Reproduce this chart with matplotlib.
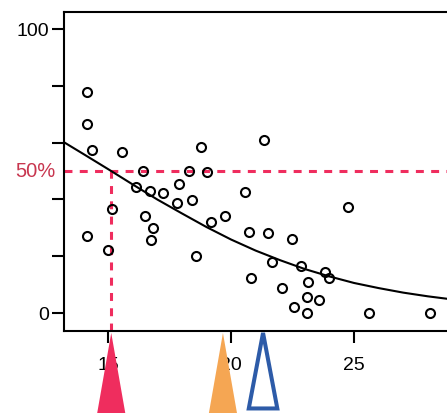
import matplotlib
matplotlib.use("Agg")
import matplotlib.pyplot as plt
from matplotlib import transforms
from matplotlib.patches import Polygon

plt.rcParams['font.family'] = ['Liberation Sans', 'DejaVu Sans']

# ---- data ----
x_vals = [14.13, 14.13, 14.36, 15.58, 16.42, 18.30, 19.04, 18.78, 21.34, 16.13,
          16.71, 17.25, 17.89, 17.82, 18.43, 20.57, 15.18, 16.50, 16.84, 16.74,
          14.16, 15.01, 18.56, 19.19, 19.76, 20.73, 21.49, 22.48, 21.65, 20.80,
          22.09, 22.83, 23.12, 22.57, 23.08, 23.08, 24.77, 23.82, 23.98, 23.58,
          25.61, 28.09]
y_vals = [77.9, 66.5, 57.4, 56.6, 50.1, 50.1, 49.8, 58.6, 60.9, 44.4,
          43.0, 42.4, 45.4, 38.8, 39.8, 42.8, 36.6, 34.2, 29.8, 25.7,
          27.2, 22.2, 20.1, 32.2, 34.3, 28.4, 28.3, 26.0, 18.0, 12.4,
          9.0, 16.7, 11.0, 2.2, 5.5, 0.0, 37.4, 14.5, 12.4, 4.6,
          0.0, 0.0]

# fitted curve, values
curve_x = [13.2, 14, 15, 16, 17, 18, 19, 20, 21, 22, 23, 24, 25, 26, 27, 28, 29]
curve_y = [60.2, 56.0, 50.7, 45.3, 40.0, 35.1, 30.3, 25.9, 22.0, 18.6, 15.5,
           12.9, 10.6, 8.8, 7.2, 5.9, 4.8]

level_pct = 50
level_x = 15.13           # where the curve crosses 50 %
arrow_x = [15.13, 19.67, 21.30]   # triangle markers below the axis
arrow_style = ['filled', 'filled', 'open']
arrow_colors = ['#EF2D5E', '#F5A653', '#2D5BA8']

x_ticks = [15, 20, 25]
y_ticks = [0, 20, 40, 60, 80, 100]
y_ticklabels = ['0', '', '', '', '', '100']

pink = '#EF2D5E'
label_red = '#C8364F'

fig = plt.figure(figsize=(4.47, 4.13), dpi=100)
ax = fig.add_axes([64 / 447, (413 - 330.7) / 413, (452 - 64) / 447, 318.7 / 413])
ax.set_xlim(13.21, 28.98)
ax.set_ylim(-6.2, 106)

ax.plot(curve_x, curve_y, color='black', lw=1.5, zorder=3)
ax.plot(x_vals, y_vals, linestyle='none', marker='o', ms=6.5,
        mfc='none', mec='black', mew=1.5, zorder=4)

ax.axhline(level_pct, color=pink, lw=2.2, dashes=(2.6, 2.4), zorder=2)
ax.plot([level_x, level_x], [-6.2, level_pct], color=pink, lw=2.2,
        dashes=(2.6, 2.4), zorder=2)

for s in ['left', 'bottom', 'top', 'right']:
    ax.spines[s].set_linewidth(1.5)

ax.set_xticks(x_ticks)
ax.set_yticks(y_ticks)
ax.set_yticklabels(y_ticklabels)
ax.tick_params(axis='both', length=8.6, width=1.5, labelsize=14, colors='black')
ax.tick_params(axis='x', pad=10)
ax.tick_params(axis='y', pad=2)

ax.annotate('50%', xy=(0, level_pct), xycoords=('axes fraction', 'data'),
            xytext=(-5.8, 0), textcoords='offset points', ha='right', va='center',
            fontsize=14.5, color=label_red)

trans = transforms.blended_transform_factory(ax.transData, ax.transAxes)
for xa, st, col in zip(arrow_x, arrow_style, arrow_colors):
    if st == 'filled':
        hw = 0.62
        poly = Polygon([(xa, -0.007), (xa - hw, -0.28), (xa + hw, -0.28)],
                       closed=True, transform=trans, clip_on=False,
                       facecolor=col, edgecolor='none', zorder=10)
    else:
        hw = 0.58
        poly = Polygon([(xa, -0.007), (xa - hw, -0.244), (xa + hw, -0.244)],
                       closed=True, transform=trans, clip_on=False,
                       facecolor='white', edgecolor=col, lw=2.9,
                       joinstyle='miter', zorder=10)
    ax.add_patch(poly)

fig.savefig('out.png', dpi=100)
